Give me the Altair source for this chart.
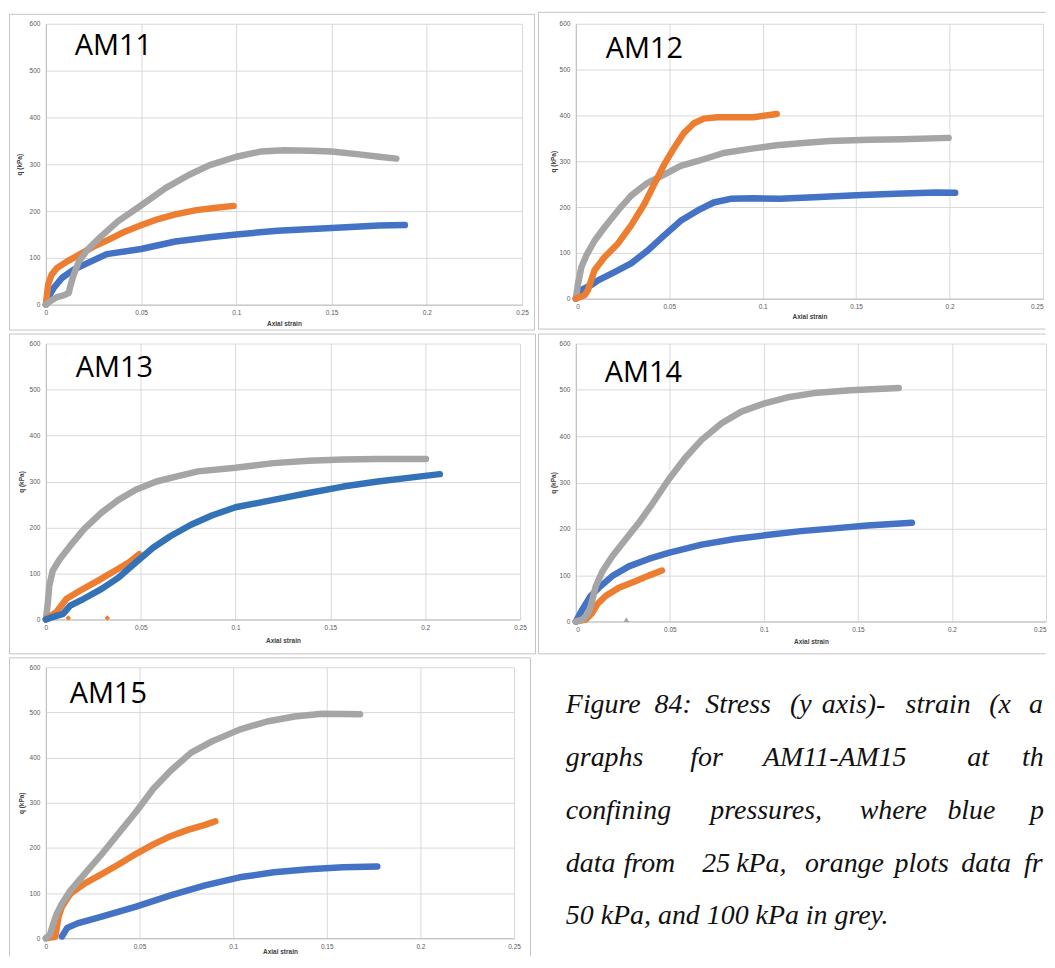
import altair as alt
import pandas as pd

# ---------------- data ----------------
SERIES = ["25 kPa", "50 kPa", "100 kPa"]
PANELS = ["AM11", "AM12", "AM13", "AM14", "AM15"]
X_TICKS = [0, 0.05, 0.1, 0.15, 0.2, 0.25]
Y_TICKS = [0, 100, 200, 300, 400, 500, 600]

am11_blue_x = [0, 0.002, 0.004, 0.0084, 0.0146, 0.0235, 0.032, 0.05, 0.068, 0.086, 0.1, 0.1216, 0.15, 0.175, 0.1885]
am11_blue_y = [0, 21, 35, 57, 75, 92, 108, 119, 135, 144, 150, 158, 164, 169, 170]
am11_orange_x = [0, 0.0012, 0.003, 0.0057, 0.011, 0.018, 0.025, 0.0325, 0.0414, 0.0503, 0.059, 0.068, 0.079, 0.0895, 0.0985]
am11_orange_y = [0, 43, 64, 78, 92, 108, 124, 138, 156, 170, 183, 193, 202, 207, 211]
am11_grey_x = [0, 0.002, 0.0057, 0.0093, 0.012, 0.0128, 0.0146, 0.0173, 0.0218, 0.029, 0.0378, 0.0503, 0.0628,
               0.075, 0.086, 0.1, 0.1127, 0.125, 0.1394, 0.15, 0.1644, 0.175, 0.184]
am11_grey_y = [0, 7, 16, 20, 25, 39, 64, 92, 117, 146, 178, 213, 249, 277, 298, 316, 327, 330, 329, 327, 321, 316, 312]

am12_blue_x = [0, 0.003, 0.0083, 0.0119, 0.0207, 0.0296, 0.0384, 0.0473, 0.0561, 0.065, 0.0738, 0.0827, 0.095,
               0.1092, 0.1305, 0.15, 0.171, 0.1925, 0.203]
am12_blue_y = [0, 19, 30, 40, 58, 77, 105, 138, 170, 192, 210, 218, 219, 218, 222, 226, 229, 232, 231]
am12_orange_x = [0, 0.0048, 0.0065, 0.01, 0.0154, 0.0225, 0.0296, 0.0366, 0.042, 0.0473, 0.0526, 0.0579, 0.0632,
                 0.0685, 0.0756, 0.0862, 0.095, 0.1075]
am12_orange_y = [0, 8, 19, 62, 91, 120, 160, 206, 250, 293, 329, 362, 383, 393, 396, 396, 396, 403]
am12_grey_x = [0, 0.0012, 0.003, 0.0057, 0.0101, 0.0154, 0.0225, 0.0296, 0.0384, 0.0473, 0.0561, 0.065, 0.079,
               0.0933, 0.1075, 0.1217, 0.1358, 0.157, 0.1747, 0.1995]
am12_grey_y = [0, 33, 69, 95, 127, 156, 192, 225, 253, 271, 290, 300, 318, 327, 335, 340, 344, 347, 348, 351]

am13_grey_x = [0, 0.0009, 0.0018, 0.0036, 0.0073, 0.0128, 0.02, 0.0292, 0.0383, 0.0474, 0.0583, 0.0692, 0.0802,
               0.1, 0.12, 0.1385, 0.1567, 0.175, 0.2004]
am13_grey_y = [0, 30, 73, 106, 131, 160, 196, 232, 260, 282, 300, 311, 322, 330, 340, 345, 348, 349, 349]
am13_blue_x = [0, 0.0036, 0.0091, 0.0128, 0.02, 0.0292, 0.0383, 0.0474, 0.0565, 0.0656, 0.0765, 0.0875, 0.1,
               0.12, 0.1385, 0.1567, 0.175, 0.1932, 0.2077]
am13_blue_y = [0, 5, 12, 30, 45, 66, 91, 124, 156, 181, 206, 226, 244, 260, 275, 289, 300, 309, 316]
am13_orange_x = [0, 0.0055, 0.0109, 0.0182, 0.0273, 0.0364, 0.0437, 0.0492]
am13_orange_y = [0, 16, 45, 63, 84, 106, 124, 142]
am13_orange_pts_x = [0.0118, 0.0324]
am13_orange_pts_y = [3, 3]

am14_grey_x = [0, 0.0035, 0.0062, 0.0079, 0.0106, 0.0141, 0.0194, 0.0264, 0.0335, 0.0405, 0.0493, 0.0581,
               0.0669, 0.0775, 0.088, 0.1004, 0.1127, 0.1268, 0.1461, 0.1717]
am14_grey_y = [0, 4, 15, 33, 76, 108, 141, 177, 213, 253, 306, 353, 392, 428, 453, 471, 484, 493, 499, 504]
am14_blue_x = [0, 0.0035, 0.0079, 0.0123, 0.0194, 0.0282, 0.0387, 0.0493, 0.0669, 0.0845, 0.1004, 0.1197,
               0.1373, 0.155, 0.1787]
am14_blue_y = [0, 26, 55, 73, 98, 119, 135, 148, 166, 178, 186, 195, 201, 207, 213]
am14_orange_x = [0, 0.0053, 0.0088, 0.0114, 0.0158, 0.0229, 0.0317, 0.0387, 0.0458]
am14_orange_y = [0, 4, 19, 37, 55, 73, 87, 99, 110]
am14_grey_pts_x = [0.0269]
am14_grey_pts_y = [4]

am15_grey_x = [0, 0.0022, 0.004, 0.0059, 0.0086, 0.0132, 0.0206, 0.0298, 0.039, 0.0482, 0.0574, 0.0666,
               0.0776, 0.0887, 0.1034, 0.1181, 0.1328, 0.1475, 0.1678]
am15_grey_y = [0, 8, 33, 55, 77, 106, 142, 186, 233, 280, 331, 371, 411, 436, 462, 480, 491, 497, 496]
am15_orange_x = [0, 0.005, 0.0068, 0.0086, 0.0132, 0.0206, 0.0298, 0.039, 0.0482, 0.0574, 0.0666, 0.0758,
                 0.085, 0.0905]
am15_orange_y = [0, 3, 48, 70, 99, 121, 142, 164, 187, 208, 226, 240, 251, 259]
am15_blue_x = [0.0086, 0.0114, 0.0169, 0.0298, 0.0482, 0.0666, 0.085, 0.1034, 0.1218, 0.1402, 0.1586, 0.177]
am15_blue_y = [4, 23, 33, 48, 70, 95, 117, 135, 146, 153, 157, 159]

CAPTION_LINES = [
    "Figure 84: Stress (y axis)- strain (x axis)",
    "graphs for AM11-AM15 at the",
    "confining pressures, where blue plots",
    "data from 25 kPa, orange plots data from",
    "50 kPa, and 100 kPa in grey.",
]

# ---------------- styling / layout ----------------
COLORS = {"25 kPa": "#4472C4", "50 kPa": "#ED7D31", "100 kPa": "#A5A5A5"}
FRAME = "#c4c4c4"
LABEL_FONT = "Liberation Sans"
RIGHT = 1047   # usable page right edge (page has an 8px body margin)
BOTTOM = 953
C1X, C2X = 45, 575          # plot-area left edge of the two columns (page px)
R1Y, R2Y, R3Y = 21, 340, 663  # plot-area top edge of the three rows (page px)

GEOM = {
    "AM11": dict(px=C1X, py=R1Y, w=478, h=282, cell=(8, 8, 537, 330), flush=False,
                 frame=[(8.5, 11.5, 535.5, 11.5), (8.5, 11.5, 8.5, 328.5), (535.5, 11.5, 535.5, 328.5),
                        (8.5, 328.5, 535.5, 328.5)],
                 title=(74, 52), ytx=19, xty=321.7),
    "AM12": dict(px=C2X, py=R1Y, w=469, h=276, cell=(537, 8, RIGHT, 330), flush=True,
                 frame=[(537.5, 9.5, RIGHT - 0.5, 9.5), (537.5, 9.5, 537.5, 327.5),
                        (537.5, 327.5, RIGHT - 0.5, 327.5)],
                 title=(605, 55), ytx=553, xty=315.3),
    "AM13": dict(px=C1X, py=R2Y, w=476, h=277, cell=(8, 330, 537, 652), flush=False,
                 frame=[(8.5, 330.5, 536.5, 330.5), (8.5, 330.5, 8.5, 651.5), (536.5, 330.5, 536.5, 651.5),
                        (8.5, 651.5, 536.5, 651.5)],
                 title=(75, 374), ytx=21, xty=638.3),
    "AM14": dict(px=C2X, py=R2Y, w=472, h=279, cell=(537, 330, RIGHT, 652), flush=True,
                 frame=[(537.5, 330.5, RIGHT - 0.5, 330.5), (537.5, 330.5, 537.5, 651.5),
                        (537.5, 651.5, RIGHT - 0.5, 651.5)],
                 title=(604, 379), ytx=553, xty=639.3),
    "AM15": dict(px=C1X, py=R3Y, w=470, h=272, cell=(8, 652, 537, BOTTOM), flush=False,
                 frame=[(8.5, 653.5, 531.5, 653.5), (8.5, 653.5, 8.5, BOTTOM), (531.5, 653.5, 531.5, BOTTOM)],
                 title=(69, 699), ytx=20.5, xty=948),
}
CAP = dict(px=537, py=R3Y, w=RIGHT - 537, h=280, cell=(537, 652, RIGHT, BOTTOM))

PANEL_SERIES = {
    "AM11": [("25 kPa", am11_blue_x, am11_blue_y, None), ("50 kPa", am11_orange_x, am11_orange_y, None),
             ("100 kPa", am11_grey_x, am11_grey_y, None)],
    "AM12": [("25 kPa", am12_blue_x, am12_blue_y, None), ("100 kPa", am12_grey_x, am12_grey_y, None),
             ("50 kPa", am12_orange_x, am12_orange_y, None)],
    "AM13": [("100 kPa", am13_grey_x, am13_grey_y, None), ("50 kPa", am13_orange_x, am13_orange_y, None),
             ("25 kPa", am13_blue_x, am13_blue_y, "#3472B8")],
    "AM14": [("50 kPa", am14_orange_x, am14_orange_y, None), ("25 kPa", am14_blue_x, am14_blue_y, None),
             ("100 kPa", am14_grey_x, am14_grey_y, None)],
    "AM15": [("25 kPa", am15_blue_x, am15_blue_y, None), ("50 kPa", am15_orange_x, am15_orange_y, None),
             ("100 kPa", am15_grey_x, am15_grey_y, None)],
}
PANEL_POINTS = {
    "AM13": [("50 kPa", am13_orange_pts_x, am13_orange_pts_y, "diamond")],
    "AM14": [("100 kPa", am14_grey_pts_x, am14_grey_pts_y, "triangle-up")],
}

dummy = pd.DataFrame({"k": [0]})
xscale = alt.Scale(domain=[0, 0.25], nice=False, zero=False)
yscale = alt.Scale(domain=[0, 600], nice=False)


def axis_common():
    return dict(grid=True, gridColor="#d9d9d9", gridWidth=1, domainColor="#bdbdbd", ticks=False,
                labelFont=LABEL_FONT, labelFontSize=6.5, labelColor="#595959",
                titleFont=LABEL_FONT, titleFontSize=6.5, titleFontWeight="bold", titleColor="#404040",
                titleBaseline="middle")


def cell_rect(g):
    cx0, cy0, cx1, cy1 = g["cell"]
    px, py = g["px"], g["py"]
    return alt.Chart(dummy).mark_rect(opacity=0).encode(
        x=alt.value(cx0 - px), x2=alt.value(cx1 - px), y=alt.value(cy0 - py), y2=alt.value(cy1 - py))


def make_panel(name):
    g = GEOM[name]
    px, py, w, h = g["px"], g["py"], g["w"], g["h"]
    layers = [cell_rect(g)]
    for (x1, y1, x2, y2) in g["frame"]:
        layers.append(alt.Chart(dummy).mark_rule(color=FRAME, strokeWidth=1).encode(
            x=alt.value(x1 - px), x2=alt.value(x2 - px), y=alt.value(y1 - py), y2=alt.value(y2 - py)))
    xaxis = alt.Axis(values=X_TICKS, format="~g", title="Axial strain", labelPadding=5, labelFlush=g["flush"],
                     titleX=w / 2, titleY=g["xty"] - (py + h), **axis_common())
    yaxis = alt.Axis(values=Y_TICKS, title="q (kPa)", labelPadding=6, labelFlush=False,
                     titleX=g["ytx"] - px, titleY=h / 2, **axis_common())
    for series, xs, ys, col in PANEL_SERIES[name]:
        df = pd.DataFrame({"strain": xs, "q": ys, "i": list(range(len(xs)))})
        layers.append(alt.Chart(df).mark_line(
            color=col or COLORS[series], strokeWidth=6.5, strokeCap="round", strokeJoin="round").encode(
            x=alt.X("strain:Q", scale=xscale, axis=xaxis),
            y=alt.Y("q:Q", scale=yscale, axis=yaxis),
            order="i:Q"))
    for series, xs, ys, shape in PANEL_POINTS.get(name, []):
        df = pd.DataFrame({"strain": xs, "q": ys})
        layers.append(alt.Chart(df).mark_point(
            shape=shape, filled=True, size=30, opacity=1, color=COLORS[series]).encode(
            x=alt.X("strain:Q", scale=xscale, axis=xaxis),
            y=alt.Y("q:Q", scale=yscale, axis=yaxis)))
    tx, ty = g["title"]
    layers.append(alt.Chart(dummy).mark_text(
        text=name, font="Open Sans", fontSize=29, align="left", baseline="alphabetic", color="#000000").encode(
        x=alt.value(tx - px), y=alt.value(ty - py)))
    return alt.layer(*layers).properties(width=w, height=h)


# caption word positions (page x) and baselines (page y)
CAP_BASELINES = [709, 762, 815, 868, 921]
CAP_WORD_X = [
    [565, 654, 705, 790, 822, 906, 990, 1030],
    [565, 690, 763, 968, 1023],
    [565, 710, 860, 948, 1031],
    [565, 623, 702, 736, 805, 895, 962, 1025],
    [565],
]


def make_caption():
    g = CAP
    px, py = g["px"], g["py"]
    right = g["cell"][2]
    layers = [cell_rect(g)]
    for li, line in enumerate(CAPTION_LINES):
        xs = CAP_WORD_X[li]
        words = line.split(" ") if len(xs) > 1 else [line]
        for word, wx in zip(words, xs):
            layers.append(alt.Chart(dummy).mark_text(
                text=word, font="Liberation Serif", fontStyle="italic", fontSize=28, align="left",
                baseline="alphabetic", color="#111111", limit=right - wx, ellipsis="\u200b").encode(
                x=alt.value(wx - px), y=alt.value(CAP_BASELINES[li] - py)))
    return alt.layer(*layers).properties(width=g["w"], height=g["h"])


p = {n: make_panel(n) for n in PANELS}
rows = [
    alt.hconcat(p["AM11"], p["AM12"], spacing=0),
    alt.hconcat(p["AM13"], p["AM14"], spacing=0),
    alt.hconcat(p["AM15"], make_caption(), spacing=0),
]
chart = alt.vconcat(*rows, spacing=0).properties(padding=0).configure_view(
    stroke="transparent").configure_concat(spacing=0)

chart.save("out.html", embed_options={"renderer": "svg", "actions": False})
